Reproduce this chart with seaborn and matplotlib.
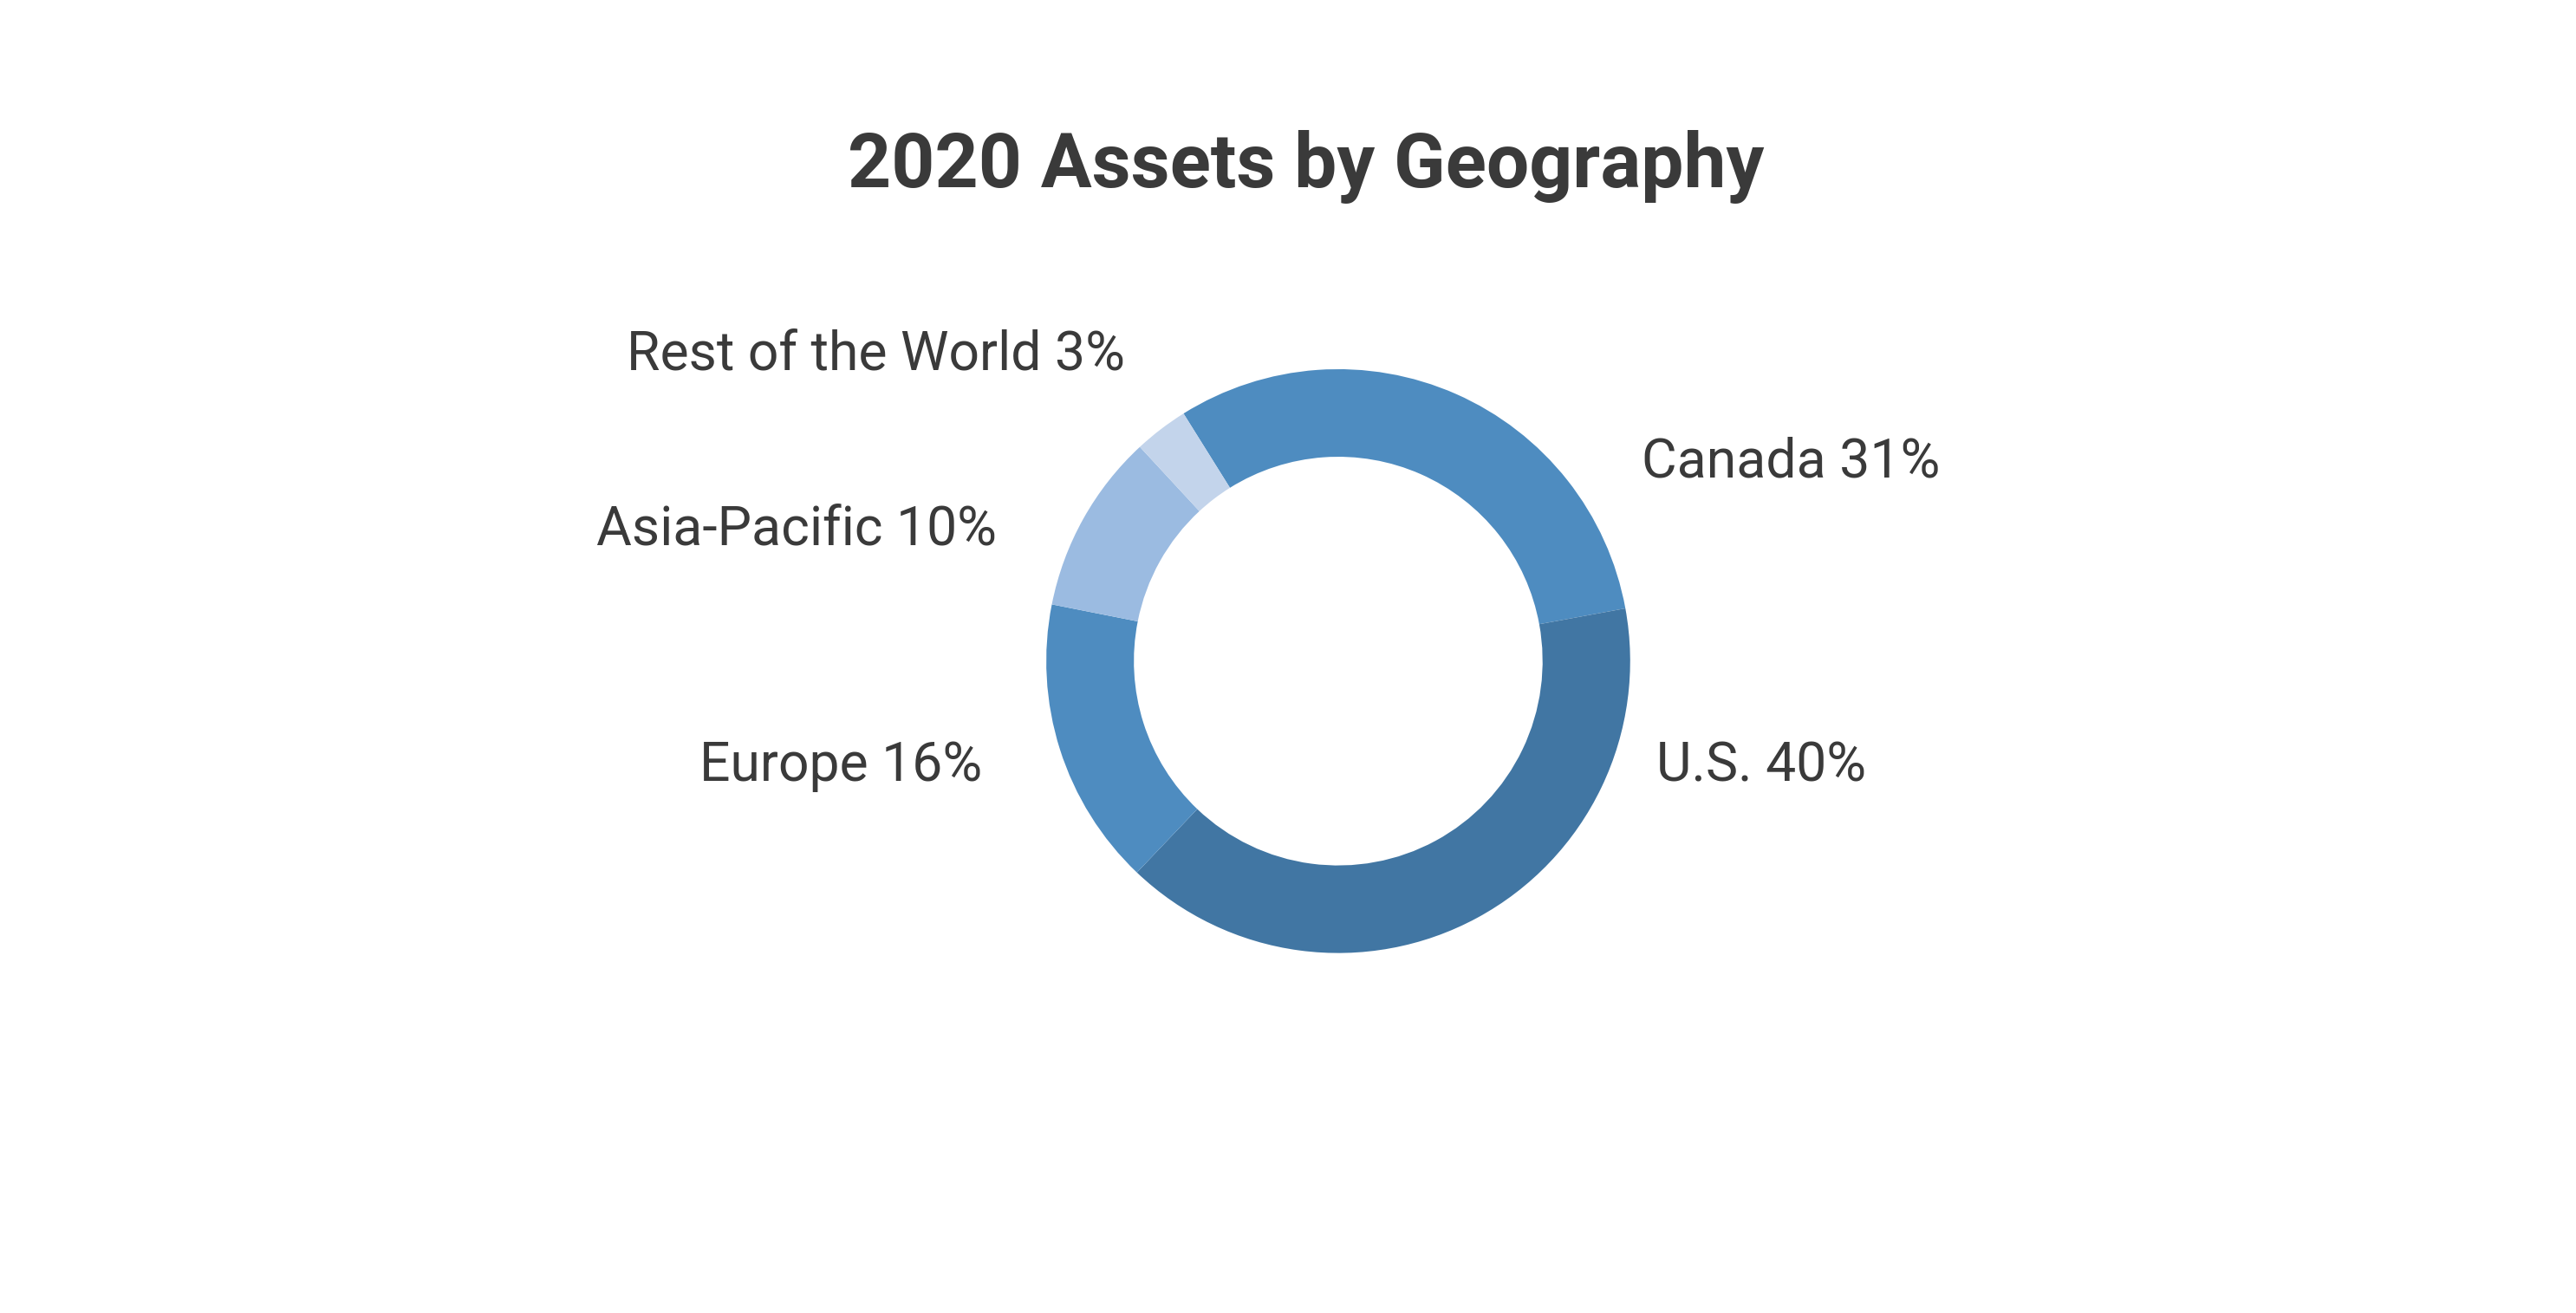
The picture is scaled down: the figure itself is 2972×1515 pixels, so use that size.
import matplotlib
matplotlib.use("Agg")
import matplotlib.pyplot as plt
import seaborn as sns

sns.set_theme(style="white")
plt.rcParams['font.family'] = ['Roboto', 'DejaVu Sans']

regions = ['Canada', 'U.S.', 'Europe', 'Asia-Pacific', 'Rest of the World']
shares = [31, 40, 16, 10, 3]
colors = ['#4e8cc0', '#4176a3', '#4e8cc0', '#9bbbe1', '#c3d4eb']

# label anchor points (data units, radius 1) and alignment
label_xy = [(1.04, 0.68), (1.09, -0.36), (-1.22, -0.36), (-1.17, 0.45), (-0.73, 1.05)]
label_ha = ['left', 'left', 'right', 'right', 'right']

fig = plt.figure(figsize=(29.72, 15.15), dpi=100)
ax = fig.add_axes([0.3495, 0.163, 0.340, 0.667])
ax.pie(shares, colors=colors, startangle=122, counterclock=False, radius=1.0,
       wedgeprops=dict(width=0.3, edgecolor='none'))
for r, s, (x, y), ha in zip(regions, shares, label_xy, label_ha):
    ax.text(x, y, f'{r} {s}%', ha=ha, va='center', fontsize=45, color='#3a3a3a')
ax.set_xlim(-1.5, 1.5)
ax.set_ylim(-1.5, 1.5)
ax.set_aspect('equal')
ax.axis('off')

fig.text(0.507, 0.873, '2020 Assets by Geography', ha='center', va='center',
         fontsize=63, fontweight='bold', color='#3a3a3a')

fig.savefig('out.png', dpi=100, facecolor='white')
